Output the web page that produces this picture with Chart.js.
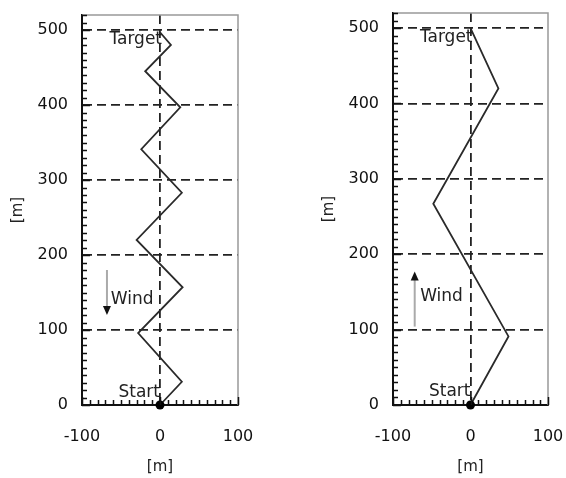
<!DOCTYPE html>
<html>
<head>
<meta charset="utf-8">
<script src="https://cdn.jsdelivr.net/npm/chart.js@4/dist/chart.umd.min.js"></script>
<style>
  body { margin: 0; background: #fff; }
  canvas { position: absolute; top: 0; }
</style>
</head>
<body>
<canvas id="left" width="290" height="478" style="left:0px"></canvas>
<canvas id="right" width="255" height="478" style="left:311px"></canvas>
<script>
// path of the left run (zig-zag, wind from above)
const leftX = [0, 28, -28, 29, -30, 28, -24, 26, -19, 14, 0]
const leftY = [0, 31, 96, 157, 220, 283, 341, 397, 445, 480, 497]
// path of the right run (wind from below)
const rightX = [0, 49, -48, 36, 0]
const rightY = [0, 91, 267, 420, 500]

const xTicks = [-100, 0, 100]
const yTicks = [0, 100, 200, 300, 400, 500]
const axisTitle = '[m]'

// labels and wind arrows, in data units
const leftNotes = { target: [0, 487], start: [0, 17], wind: [-63, 141], arrow: [-68, 180, 120] }
const rightNotes = { target: [0, 487], start: [0, 18], wind: [-65, 144], arrow: [-72, 104, 177] }

const tickFont = { family: 'DejaVu Sans', size: 16 }
const noteFont = '17px "DejaVu Sans"'

// minor ticks, top/right frame, text and arrows
const decor = {
  id: 'decor',
  afterDraw (chart, args, opts) {
    const { ctx, chartArea: a, scales: { x, y } } = chart
    ctx.save()
    ctx.strokeStyle = '#999'
    ctx.lineWidth = 1.5
    ctx.beginPath()
    ctx.moveTo(a.left, a.top)
    ctx.lineTo(a.right, a.top)
    ctx.lineTo(a.right, a.bottom)
    ctx.stroke()

    ctx.strokeStyle = '#111'
    ctx.lineWidth = 1.5
    ctx.beginPath()
    for (let v = 0; v <= 520; v += 10) {
      const py = Math.round(y.getPixelForValue(v)) + 0.5
      ctx.moveTo(a.left, py)
      ctx.lineTo(a.left + (v % 100 === 0 ? 8 : 5), py)
    }
    for (let v = -100; v <= 100; v += 10) {
      const px = Math.round(x.getPixelForValue(v)) + 0.5
      ctx.moveTo(px, a.bottom)
      ctx.lineTo(px, a.bottom - (v % 100 === 0 ? 8 : 5))
    }
    ctx.stroke()

    const n = opts.notes
    ctx.fillStyle = '#222'
    ctx.font = noteFont
    ctx.textBaseline = 'middle'
    ctx.textAlign = 'right'
    ctx.fillText('Target', x.getPixelForValue(n.target[0]) + 2, y.getPixelForValue(n.target[1]))
    ctx.fillText('Start', x.getPixelForValue(n.start[0]), y.getPixelForValue(n.start[1]))
    ctx.textAlign = 'left'
    ctx.fillText('Wind', x.getPixelForValue(n.wind[0]), y.getPixelForValue(n.wind[1]))

    // wind arrow: grey shaft, black head at the end
    const ax = x.getPixelForValue(n.arrow[0])
    const y0 = y.getPixelForValue(n.arrow[1])
    const y1 = y.getPixelForValue(n.arrow[2])
    const dir = y1 > y0 ? 1 : -1
    ctx.strokeStyle = '#aaa'
    ctx.lineWidth = 2
    ctx.beginPath()
    ctx.moveTo(ax, y0)
    ctx.lineTo(ax, y1 - dir * 6)
    ctx.stroke()
    ctx.fillStyle = '#111'
    ctx.beginPath()
    ctx.moveTo(ax, y1)
    ctx.lineTo(ax - 4, y1 - dir * 9)
    ctx.lineTo(ax + 4, y1 - dir * 9)
    ctx.closePath()
    ctx.fill()
    ctx.restore()
  }
}

// drop the extra room chart.js keeps for the end labels
function noPad (s) {
  s.paddingTop = 0
  s.paddingBottom = 0
  s.paddingLeft = 0
  s.paddingRight = 0
}

function makeChart (id, xs, ys, notes, top, right) {
  const pts = xs.map((v, i) => ({ x: v, y: ys[i] }))
  return new Chart(document.getElementById(id), {
    type: 'scatter',
    data: {
      datasets: [{
        data: pts,
        showLine: true,
        clip: false,
        borderColor: '#2a2a2a',
        borderWidth: 1.8,
        pointRadius: c => c.dataIndex === 0 ? 4.5 : 0,
        pointBackgroundColor: '#000',
        pointBorderWidth: 0
      }]
    },
    options: {
      responsive: false,
      animation: false,
      layout: { padding: { top, right, left: 0, bottom: 0 } },
      plugins: { legend: { display: false }, tooltip: { enabled: false }, decor: { notes } },
      scales: {
        x: {
          type: 'linear',
          min: -100,
          max: 100,
          afterBuildTicks: s => { s.ticks = xTicks.map(v => ({ value: v })) },
          afterFit: s => { s.height = 73; noPad(s) },
          ticks: { font: tickFont, color: '#111', padding: 22, maxRotation: 0 },
          grid: { drawTicks: false, lineWidth: 1.8, color: c => (c.tick && c.tick.value === 0) ? '#222' : 'rgba(0,0,0,0)' },
          border: { display: true, color: '#111', width: 2, dash: [9, 5] },
          title: { display: true, text: axisTitle, font: { family: 'DejaVu Sans', size: 15 }, color: '#222', padding: { top: 0, bottom: 2 } }
        },
        y: {
          type: 'linear',
          min: 0,
          max: 520,
          afterBuildTicks: s => { s.ticks = yTicks.map(v => ({ value: v })) },
          afterFit: s => { s.width = 82; noPad(s) },
          ticks: { font: tickFont, color: '#111', padding: 14 },
          grid: { drawTicks: false, lineWidth: 1.8, color: c => (c.tick && c.tick.value > 0) ? '#222' : 'rgba(0,0,0,0)' },
          border: { display: true, color: '#111', width: 2, dash: [9, 5] },
          title: { display: true, text: axisTitle, font: { family: 'DejaVu Sans', size: 15 }, color: '#222', padding: { top: 9, bottom: 0 } }
        }
      }
    },
    plugins: [decor]
  })
}

makeChart('left', leftX, leftY, leftNotes, 15, 52)
makeChart('right', rightX, rightY, rightNotes, 13, 18)
</script>
</body>
</html>
